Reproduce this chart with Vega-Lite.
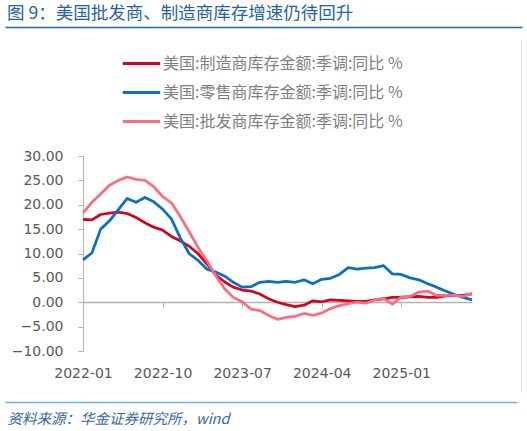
{
  "$schema": "https://vega.github.io/schema/vega-lite/v6.json",
  "width": 389,
  "height": 195,
  "autosize": {"type": "none"},
  "padding": {"left": 83, "top": 156, "right": 55, "bottom": 80},
  "background": "white",
  "title": {
    "text": "图 9：美国批发商、制造商库存增速仍待回升",
    "anchor": "start",
    "frame": "group",
    "orient": "top",
    "dx": -76,
    "offset": 5,
    "font": "Noto Sans CJK SC",
    "fontSize": 17.5,
    "fontWeight": "normal",
    "color": "#2462a8"
  },
  "config": {
    "view": {"stroke": null},
    "axis": {"grid": false}
  },
  "layer": [
    {
      "data": {
        "values": [
          {"month": "2022-01", "美国:制造商库存金额:季调:同比 %": 17.0, "美国:零售商库存金额:季调:同比 %": 8.7, "美国:批发商库存金额:季调:同比 %": 18.3},
          {"month": "2022-02", "美国:制造商库存金额:季调:同比 %": 16.9, "美国:零售商库存金额:季调:同比 %": 10.1, "美国:批发商库存金额:季调:同比 %": 20.5},
          {"month": "2022-03", "美国:制造商库存金额:季调:同比 %": 18.0, "美国:零售商库存金额:季调:同比 %": 15.0, "美国:批发商库存金额:季调:同比 %": 22.2},
          {"month": "2022-04", "美国:制造商库存金额:季调:同比 %": 18.3, "美国:零售商库存金额:季调:同比 %": 16.7, "美国:批发商库存金额:季调:同比 %": 24.0},
          {"month": "2022-05", "美国:制造商库存金额:季调:同比 %": 18.5, "美国:零售商库存金额:季调:同比 %": 19.0, "美国:批发商库存金额:季调:同比 %": 25.0},
          {"month": "2022-06", "美国:制造商库存金额:季调:同比 %": 18.2, "美国:零售商库存金额:季调:同比 %": 21.3, "美国:批发商库存金额:季调:同比 %": 25.7},
          {"month": "2022-07", "美国:制造商库存金额:季调:同比 %": 17.4, "美国:零售商库存金额:季调:同比 %": 20.5, "美国:批发商库存金额:季调:同比 %": 25.2},
          {"month": "2022-08", "美国:制造商库存金额:季调:同比 %": 16.3, "美国:零售商库存金额:季调:同比 %": 21.5, "美国:批发商库存金额:季调:同比 %": 25.0},
          {"month": "2022-09", "美国:制造商库存金额:季调:同比 %": 15.4, "美国:零售商库存金额:季调:同比 %": 20.6, "美国:批发商库存金额:季调:同比 %": 23.7},
          {"month": "2022-10", "美国:制造商库存金额:季调:同比 %": 14.8, "美国:零售商库存金额:季调:同比 %": 19.1, "美国:批发商库存金额:季调:同比 %": 21.7},
          {"month": "2022-11", "美国:制造商库存金额:季调:同比 %": 13.5, "美国:零售商库存金额:季调:同比 %": 17.1, "美国:批发商库存金额:季调:同比 %": 20.4},
          {"month": "2022-12", "美国:制造商库存金额:季调:同比 %": 12.6, "美国:零售商库存金额:季调:同比 %": 13.2, "美国:批发商库存金额:季调:同比 %": 17.6},
          {"month": "2023-01", "美国:制造商库存金额:季调:同比 %": 11.5, "美国:零售商库存金额:季调:同比 %": 10.0, "美国:批发商库存金额:季调:同比 %": 14.5},
          {"month": "2023-02", "美国:制造商库存金额:季调:同比 %": 10.0, "美国:零售商库存金额:季调:同比 %": 8.6, "美国:批发商库存金额:季调:同比 %": 11.3},
          {"month": "2023-03", "美国:制造商库存金额:季调:同比 %": 7.9, "美国:零售商库存金额:季调:同比 %": 6.8, "美国:批发商库存金额:季调:同比 %": 8.5},
          {"month": "2023-04", "美国:制造商库存金额:季调:同比 %": 5.6, "美国:零售商库存金额:季调:同比 %": 6.2, "美国:批发商库存金额:季调:同比 %": 5.5},
          {"month": "2023-05", "美国:制造商库存金额:季调:同比 %": 4.2, "美国:零售商库存金额:季调:同比 %": 5.4, "美国:批发商库存金额:季调:同比 %": 2.8},
          {"month": "2023-06", "美国:制造商库存金额:季调:同比 %": 3.1, "美国:零售商库存金额:季调:同比 %": 4.1, "美国:批发商库存金额:季调:同比 %": 1.0},
          {"month": "2023-07", "美国:制造商库存金额:季调:同比 %": 2.5, "美国:零售商库存金额:季调:同比 %": 3.1, "美国:批发商库存金额:季调:同比 %": 0.1},
          {"month": "2023-08", "美国:制造商库存金额:季调:同比 %": 2.3, "美国:零售商库存金额:季调:同比 %": 3.2, "美国:批发商库存金额:季调:同比 %": -1.4},
          {"month": "2023-09", "美国:制造商库存金额:季调:同比 %": 1.7, "美国:零售商库存金额:季调:同比 %": 4.1, "美国:批发商库存金额:季调:同比 %": -1.7},
          {"month": "2023-10", "美国:制造商库存金额:季调:同比 %": 0.7, "美国:零售商库存金额:季调:同比 %": 4.3, "美国:批发商库存金额:季调:同比 %": -2.7},
          {"month": "2023-11", "美国:制造商库存金额:季调:同比 %": 0.0, "美国:零售商库存金额:季调:同比 %": 4.1, "美国:批发商库存金额:季调:同比 %": -3.5},
          {"month": "2023-12", "美国:制造商库存金额:季调:同比 %": -0.5, "美国:零售商库存金额:季调:同比 %": 4.3, "美国:批发商库存金额:季调:同比 %": -3.1},
          {"month": "2024-01", "美国:制造商库存金额:季调:同比 %": -0.9, "美国:零售商库存金额:季调:同比 %": 4.1, "美国:批发商库存金额:季调:同比 %": -2.9},
          {"month": "2024-02", "美国:制造商库存金额:季调:同比 %": -0.6, "美国:零售商库存金额:季调:同比 %": 4.6, "美国:批发商库存金额:季调:同比 %": -2.3},
          {"month": "2024-03", "美国:制造商库存金额:季调:同比 %": 0.3, "美国:零售商库存金额:季调:同比 %": 3.8, "美国:批发商库存金额:季调:同比 %": -2.7},
          {"month": "2024-04", "美国:制造商库存金额:季调:同比 %": 0.1, "美国:零售商库存金额:季调:同比 %": 4.7, "美国:批发商库存金额:季调:同比 %": -2.2},
          {"month": "2024-05", "美国:制造商库存金额:季调:同比 %": 0.5, "美国:零售商库存金额:季调:同比 %": 4.9, "美国:批发商库存金额:季调:同比 %": -1.3},
          {"month": "2024-06", "美国:制造商库存金额:季调:同比 %": 0.4, "美国:零售商库存金额:季调:同比 %": 5.7, "美国:批发商库存金额:季调:同比 %": -0.7},
          {"month": "2024-07", "美国:制造商库存金额:季调:同比 %": 0.3, "美国:零售商库存金额:季调:同比 %": 7.1, "美国:批发商库存金额:季调:同比 %": -0.3},
          {"month": "2024-08", "美国:制造商库存金额:季调:同比 %": 0.2, "美国:零售商库存金额:季调:同比 %": 6.8, "美国:批发商库存金额:季调:同比 %": 0.0},
          {"month": "2024-09", "美国:制造商库存金额:季调:同比 %": 0.2, "美国:零售商库存金额:季调:同比 %": 7.0, "美国:批发商库存金额:季调:同比 %": -0.2},
          {"month": "2024-10", "美国:制造商库存金额:季调:同比 %": 0.5, "美国:零售商库存金额:季调:同比 %": 7.1, "美国:批发商库存金额:季调:同比 %": 0.5},
          {"month": "2024-11", "美国:制造商库存金额:季调:同比 %": 0.7, "美国:零售商库存金额:季调:同比 %": 7.5, "美国:批发商库存金额:季调:同比 %": 0.8},
          {"month": "2024-12", "美国:制造商库存金额:季调:同比 %": 1.0, "美国:零售商库存金额:季调:同比 %": 5.8, "美国:批发商库存金额:季调:同比 %": -0.4},
          {"month": "2025-01", "美国:制造商库存金额:季调:同比 %": 1.0, "美国:零售商库存金额:季调:同比 %": 5.7, "美国:批发商库存金额:季调:同比 %": 1.1},
          {"month": "2025-02", "美国:制造商库存金额:季调:同比 %": 1.1, "美国:零售商库存金额:季调:同比 %": 5.0, "美国:批发商库存金额:季调:同比 %": 1.2},
          {"month": "2025-03", "美国:制造商库存金额:季调:同比 %": 1.2, "美国:零售商库存金额:季调:同比 %": 4.6, "美国:批发商库存金额:季调:同比 %": 2.1},
          {"month": "2025-04", "美国:制造商库存金额:季调:同比 %": 1.0, "美国:零售商库存金额:季调:同比 %": 3.8, "美国:批发商库存金额:季调:同比 %": 2.3},
          {"month": "2025-05", "美国:制造商库存金额:季调:同比 %": 1.0, "美国:零售商库存金额:季调:同比 %": 3.1, "美国:批发商库存金额:季调:同比 %": 1.4},
          {"month": "2025-06", "美国:制造商库存金额:季调:同比 %": 1.3, "美国:零售商库存金额:季调:同比 %": 2.3, "美国:批发商库存金额:季调:同比 %": 1.4},
          {"month": "2025-07", "美国:制造商库存金额:季调:同比 %": 1.4, "美国:零售商库存金额:季调:同比 %": 1.6, "美国:批发商库存金额:季调:同比 %": 1.4},
          {"month": "2025-08", "美国:制造商库存金额:季调:同比 %": 1.4, "美国:零售商库存金额:季调:同比 %": 1.0, "美国:批发商库存金额:季调:同比 %": 1.2},
          {"month": "2025-09", "美国:制造商库存金额:季调:同比 %": 1.7, "美国:零售商库存金额:季调:同比 %": 0.5, "美国:批发商库存金额:季调:同比 %": 1.8}
        ]
      },
      "transform": [
        {"fold": ["美国:制造商库存金额:季调:同比 %", "美国:零售商库存金额:季调:同比 %", "美国:批发商库存金额:季调:同比 %"], "as": ["series", "value"]}
      ],
      "mark": {"type": "line", "strokeWidth": 2.75, "strokeJoin": "round"},
      "encoding": {
        "x": {
          "field": "month",
          "type": "ordinal",
          "scale": {"type": "point", "padding": 0},
          "axis": {
            "labelExpr": "indexof(['2022-01','2022-10','2023-07','2024-04','2025-01'], datum.value) >= 0 ? datum.value : ''",
            "tickOpacity": {"condition": {"test": "indexof(['2022-01','2022-10','2023-07','2024-04','2025-01'], datum.value) >= 0", "value": 1}, "value": 0},
            "labelAngle": 0,
            "labelOverlap": false,
            "labelBound": false,
            "labelFlush": false,
            "offset": -49,
            "labelPadding": 59,
            "tickSize": 5,
            "ticks": true,
            "tickColor": "#b3b3b3",
            "tickWidth": 1,
            "domainColor": "#b3b3b3",
            "domainWidth": 1.5,
            "labelFont": "DejaVu Sans",
            "labelFontSize": 14,
            "labelColor": "#595959",
            "title": null
          }
        },
        "y": {
          "field": "value",
          "type": "quantitative",
          "scale": {"domain": [-10, 30], "nice": false},
          "axis": {
            "values": [-10, -5, 0, 5, 10, 15, 20, 25, 30],
            "format": ".2f",
            "tickSize": 5,
            "labelPadding": 15,
            "domainColor": "#b3b3b3",
            "domainWidth": 1,
            "tickColor": "#b3b3b3",
            "labelFont": "DejaVu Sans",
            "labelFontSize": 14,
            "labelColor": "#595959",
            "title": null
          }
        },
        "color": {
          "field": "series",
          "type": "nominal",
          "sort": null,
          "scale": {
            "domain": ["美国:制造商库存金额:季调:同比 %", "美国:零售商库存金额:季调:同比 %", "美国:批发商库存金额:季调:同比 %"],
            "range": ["#d0061c", "#0d6fc2", "#ff6b80"]
          },
          "legend": {
            "orient": "none",
            "legendX": 38,
            "legendY": -113,
            "title": null,
            "symbolType": "stroke",
            "symbolSize": 1400,
            "symbolStrokeWidth": 3,
            "labelFont": "Noto Sans CJK SC",
            "labelFontSize": 16,
            "labelColor": "#7f7f7f",
            "labelOffset": 1,
            "rowPadding": -6.5,
            "labelLimit": 400
          }
        }
      }
    },
    {
      "data": {"values": []},
      "mark": {"type": "rule"},
      "encoding": {
        "x": {
          "field": "p",
          "type": "quantitative",
          "scale": {"domain": [0, 1], "range": [-78, 439]},
          "axis": {"orient": "top", "offset": 129, "labels": false, "ticks": false, "domainColor": "#2563ab", "domainWidth": 1.5, "title": null}
        },
        "y": {
          "field": "q",
          "type": "quantitative",
          "scale": {"domain": [0, 1], "range": [236, -117]},
          "axis": {"orient": "right", "offset": 49, "labels": false, "ticks": false, "domainColor": "#dcdcdc", "domainWidth": 1, "title": null}
        }
      }
    },
    {
      "data": {"values": []},
      "mark": {"type": "rule"},
      "encoding": {
        "x": {
          "field": "p",
          "type": "quantitative",
          "scale": {"domain": [0, 1], "range": [-78, 434]},
          "axis": {
            "orient": "bottom",
            "offset": 51,
            "labels": false,
            "ticks": false,
            "domainColor": "#78aee0",
            "domainWidth": 1.5,
            "title": "资料来源：华金证券研究所，wind",
            "titleFont": "Noto Sans CJK SC",
            "titleFontSize": 14.5,
            "titleFontStyle": "italic",
            "titleFontWeight": "normal",
            "titleColor": "#3766a8",
            "titleAnchor": "start",
            "titleAlign": "left",
            "titleBaseline": "middle",
            "titleX": -76,
            "titleY": 17
          }
        }
      }
    }
  ],
  "resolve": {
    "scale": {"x": "independent", "y": "independent", "color": "independent"},
    "axis": {"x": "independent", "y": "independent"}
  }
}
